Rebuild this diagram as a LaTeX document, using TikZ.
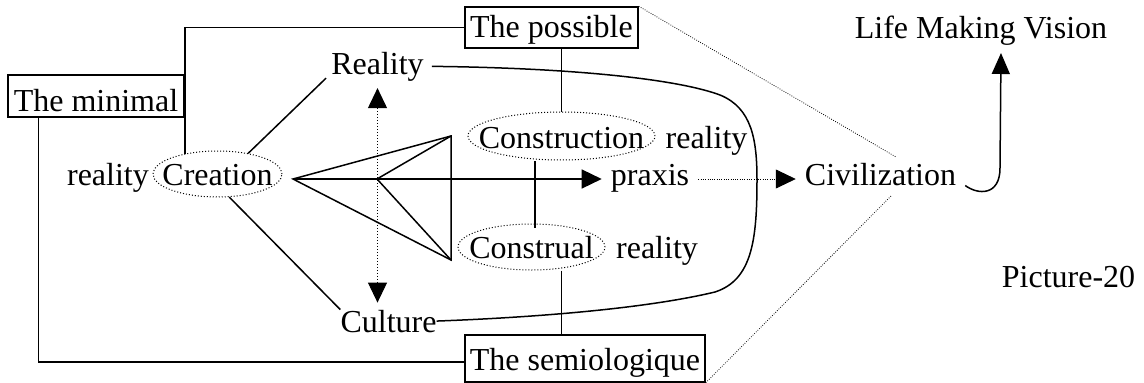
\documentclass[tikz,border=0pt]{standalone}
\usepackage{fontspec}
\setmainfont{Liberation Serif}
\usetikzlibrary{arrows.meta,shapes.geometric,calc}
\begin{document}
\begin{tikzpicture}[x=1pt,y=-1pt,
  every node/.style={font=\fontsize{32}{38}\selectfont, inner sep=0pt},
  txt/.style={anchor=base},
  boxnode/.style={draw, line width=1.5pt, rectangle, inner sep=0pt},
  ell/.style={draw, dotted, line width=1pt, ellipse, inner xsep=-40pt, inner ysep=-15pt},
  ln/.style={line width=1.5pt},
  tip/.style={-{Triangle[length=20pt,width=19pt]}},
  thindots/.style={line width=0.8pt, dash pattern=on 0.8pt off 1.5pt}
]
\useasboundingbox (0,0) rectangle (1144,383);

% boxes
\node[boxnode, minimum width=176pt, minimum height=42pt, text height=32pt, text depth=2pt] (minimal) at (96,96) {The minimal};
\node[boxnode, minimum width=173pt, minimum height=41pt, text height=26pt, text depth=7pt] (possible) at (551.5,27.5) {The possible};
\node[boxnode, minimum width=240pt, minimum height=47pt, text height=28pt, text depth=5pt] (semio) at (585,358.5) {The semiologique};

% ellipses
\node[ell, minimum width=129pt, minimum height=46pt, text height=22pt, text depth=0pt] (Creation) at (217.5,174) {Creation};
\node[ell, minimum width=187pt, minimum height=48pt, text height=24pt, text depth=0pt] (Construction) at (561.5,136) {Construction};
\node[ell, minimum width=147pt, minimum height=46pt, text height=22pt, text depth=0pt] (Construal) at (531.5,247) {Construal};

% plain texts
\node[txt] (reality1) at (108,185) {reality};
\node[txt] (Reality) at (377.5,74) {Reality};
\node[txt] (Culture) at (388.5,332) {Culture};
\node[txt, inner xsep=9pt] (praxis) at (650,185) {praxis};
\node[txt, inner xsep=9pt] (civ) at (880.5,185) {Civilization};
\node[txt] (reality2) at (706.5,148) {reality};
\node[txt] (reality3) at (657,258) {reality};
\node[txt] (life) at (981,38) {Life Making Vision};
\node[txt] (pic) at (1068.5,287) {Picture-20};

% coordinates
\coordinate (apex) at (293,179);
\coordinate (inner) at (377,179);
\coordinate (ttop) at (451,136);
\coordinate (tbot) at (451,260);
\coordinate (civtop) at (896,157);
\coordinate (civbot) at (892,195);
\coordinate (lmvtip) at (1001,53);
\coordinate (cl) at ($(Construal.north)+(3.5,4)$);
\coordinate (mtop) at ($(minimal.east |- Creation.north)+(0,3)$);

% connectors
\draw[ln] ([xshift=-5pt,yshift=3pt]Reality.south west) -- (Creation.34);
\draw[ln] (Creation.-63) -- (Culture.north west);
\draw[ln] (apex) -- (ttop) -- (tbot) -- cycle;
\draw[ln] (ttop) -- (inner) -- (tbot);
\draw[ln, tip] (apex) -- (praxis.west |- apex);
\draw[thindots, tip] (praxis.east |- apex) -- (civ.west |- apex);
\draw[line width=1pt, dotted, {Triangle[length=20pt,width=19pt]}-{Triangle[length=20pt,width=19pt]}, shorten <=7pt, shorten >=7pt] (Reality.south) -- (Reality.south |- Culture.north);
\draw[ln] (Construction.north) -- (Construction.north |- possible.south);
\draw[ln] (cl) -- (cl |- Construction.south);
\draw[ln] (Construction.north |- Construal.south) -- (Construction.north |- semio.north);
\draw[ln] (mtop) -- (minimal.east |- possible.west) -- (possible.west);
\draw[ln] ($(minimal.south west)+(31,0)$) |- ($(semio.west)+(0,3.5)$);
\draw[ln] ([xshift=8pt]Reality.east) .. controls (580,68) and (680,80) .. (720,95)
  .. controls (752,108) and (757,140) .. (757,180)
  .. controls (757,240) and (752,280) .. (715,292)
  .. controls (640,310) and (520,318) .. (Culture.east);
\draw[ln, -{Triangle[length=21pt,width=18pt]}] (civ.south east) .. controls (978,195) and (1000,196) .. (1000,168) -- (lmvtip);
\draw[thindots] (possible.north east) -- (civtop);
\draw[thindots] (semio.south east) -- (civbot);
\end{tikzpicture}
\end{document}
